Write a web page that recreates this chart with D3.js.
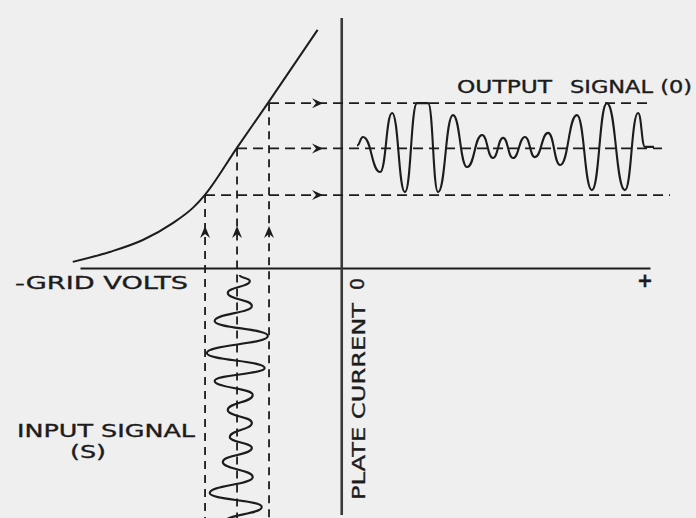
<!DOCTYPE html>
<html>
<head>
<meta charset="UTF-8">
<title>Grid volts / plate current</title>
<script src="https://cdn.jsdelivr.net/npm/d3@7"></script>
<style>
  body { margin: 0; background: #efefef; }
  text { font-family: "DejaVu Sans", sans-serif; fill: #1c1c1c; stroke: #1c1c1c; stroke-width: 0.35px; }
</style>
</head>
<body>
<svg id="chart" width="696" height="518"></svg>
<script>
// tube characteristic, grid volts vs plate current
const curveVolts   = [-9.25, -7.98, -6.84, -5.81, -5.12, -4.71, -3.61, -2.54, -0.83];
const curveCurrent = [0.21, 0.55, 0.96, 1.54, 2.06, 2.50, 4.11, 5.65, 8.16];

// operating point (bias) and the two swing limits
const opVolts   = [-4.7, -3.6, -2.5];
const opCurrent = [2.5, 4.1, 5.65];

// input signal on the grid, time runs downwards
const inTime  = [0.1, 0.3, 0.7, 1.13, 1.63, 2.13, 2.7, 3.2, 3.63, 4.1, 4.6, 5.03, 5.5, 5.87, 6.33, 6.83, 7.37, 7.83, 8.33];
const inVolts = [-3.51, -3.16, -3.92, -3.09, -4.37, -2.54, -4.64, -2.65, -4.37, -3.06, -3.92, -3.09, -3.85, -3.09, -4.09, -3.06, -4.54, -2.75, -4.02];

// output signal in the plate circuit, time runs to the right
const outTime    = [0, 0.2, 0.77, 1.17, 1.6, 2.0, 2.37, 2.7, 3.2, 3.67, 4.17, 4.53, 4.87, 5.2, 5.6, 5.93, 6.37, 6.77, 7.33, 7.83, 8.33, 8.93, 9.37, 9.6, 9.9];
const outCurrent = [4.2, 4.49, 3.29, 5.31, 2.6, 5.65, 5.65, 2.6, 5.24, 3.46, 4.56, 3.77, 4.46, 3.77, 4.49, 3.8, 4.63, 3.53, 5.24, 2.67, 5.65, 2.67, 5.31, 4.15, 4.15];

const ink = "#1c1c1c";
const svg = d3.select("#chart");

svg.append("rect").attr("width", 696).attr("height", 518).attr("fill", "#efefef");

// scales
const x = d3.scaleLinear().domain([-9, 10.6]).range([80, 650]);   // grid volts
const y = d3.scaleLinear().domain([0, 8.5]).range([268, 20]);     // plate current
const tIn = d3.scaleLinear().domain([0, 8.2]).range([272, 518]);
const tOut = d3.scaleLinear().domain([0, 10]).range([357, 657]);

// wave curve: flat at each peak, steep between them (hand drawn look)
function waveCurve(handle, vertical) {
  return function(context) {
    let pts = [];
    return {
      areaStart() {}, areaEnd() {},
      lineStart() { pts = []; },
      point(px, py) { pts.push([px, py]); },
      lineEnd() {
        context.moveTo(pts[0][0], pts[0][1]);
        for (let i = 1; i < pts.length; i++) {
          const [x0, y0] = pts[i - 1], [x1, y1] = pts[i];
          if (vertical) {
            const h = (y1 - y0) * handle;
            context.bezierCurveTo(x0, y0 + h, x1, y1 - h, x1, y1);
          } else {
            const h = (x1 - x0) * handle;
            context.bezierCurveTo(x0 + h, y0, x1 - h, y1, x1, y1);
          }
        }
      }
    };
  };
}

// axes
svg.append("g")
    .attr("transform", `translate(0,${y(0)})`)
    .call(d3.axisBottom(x).tickValues([]).tickSizeOuter(0))
    .select(".domain").attr("stroke", ink).attr("stroke-width", 2);

svg.append("line")
    .attr("x1", x(0)).attr("x2", x(0))
    .attr("y1", y(8.57)).attr("y2", y(-8.47))
    .attr("stroke", "#3a3a3a").attr("stroke-width", 2.6);

// characteristic curve
const curvePts = curveVolts.map((v, i) => [v, curveCurrent[i]]);
svg.append("path")
    .attr("d", d3.line().x(d => x(d[0])).y(d => y(d[1])).curve(d3.curveMonotoneX)(curvePts))
    .attr("fill", "none").attr("stroke", ink).attr("stroke-width", 2);

// projection lines
const hEnds = [670, 662, 652];
opVolts.forEach((v, i) => {
  svg.append("line")
      .attr("x1", x(v)).attr("x2", hEnds[i])
      .attr("y1", y(opCurrent[i])).attr("y2", y(opCurrent[i]))
      .attr("stroke", ink).attr("stroke-width", 1.8)
      .attr("stroke-dasharray", "10,6");
  svg.append("line")
      .attr("x1", x(v)).attr("x2", x(v))
      .attr("y1", y(opCurrent[i])).attr("y2", 518)
      .attr("stroke", ink).attr("stroke-width", 1.8)
      .attr("stroke-dasharray", "8,6");

  // arrow heads
  const ax = 323, ay = y(opCurrent[i]);
  svg.append("path")
      .attr("d", `M${ax - 11},${ay - 5} L${ax},${ay} L${ax - 11},${ay + 5} L${ax - 7},${ay} Z`)
      .attr("fill", ink);
  const bx = x(v), by = 226;
  svg.append("path")
      .attr("d", `M${bx - 5},${by + 12} L${bx},${by} L${bx + 5},${by + 12} L${bx},${by + 8} Z`)
      .attr("fill", ink);
});

// input signal
const inPts = inTime.map((t, i) => [inVolts[i], t]);
svg.append("path")
    .attr("d", d3.line().x(d => x(d[0])).y(d => tIn(d[1])).curve(waveCurve(0.5, true))(inPts))
    .attr("fill", "none").attr("stroke", ink).attr("stroke-width", 2.1);

// output signal
const outPts = outTime.map((t, i) => [t, outCurrent[i]]);
svg.append("path")
    .attr("d", d3.line().x(d => tOut(d[0])).y(d => y(d[1])).curve(waveCurve(0.5, false))(outPts))
    .attr("fill", "none").attr("stroke", ink).attr("stroke-width", 2.1);

// labels
function label(txt, x0, x1, base, size) {
  svg.append("text")
      .attr("x", x0).attr("y", base)
      .attr("font-size", size)
      .attr("textLength", x1 - x0).attr("lengthAdjust", "spacingAndGlyphs")
      .text(txt);
}
label("-GRID VOLTS", 15, 188, 289, 17);
label("OUTPUT", 457, 552, 93, 17);
label("SIGNAL (0)", 570, 692, 93, 17);
label("INPUT SIGNAL", 17, 195, 437, 17);
label("(S)", 70, 106, 458, 17);

svg.append("text")
    .attr("transform", "translate(365,500) rotate(-90)")
    .attr("font-size", 18)
    .attr("textLength", 197).attr("lengthAdjust", "spacingAndGlyphs")
    .text("PLATE CURRENT");
svg.append("text")
    .attr("transform", "translate(364,290) rotate(-90)")
    .attr("font-size", 19)
    .text("0");
svg.append("text")
    .attr("x", 645).attr("y", 287)
    .attr("text-anchor", "middle")
    .attr("font-size", 19).attr("font-weight", "bold")
    .text("+");
</script>
</body>
</html>
